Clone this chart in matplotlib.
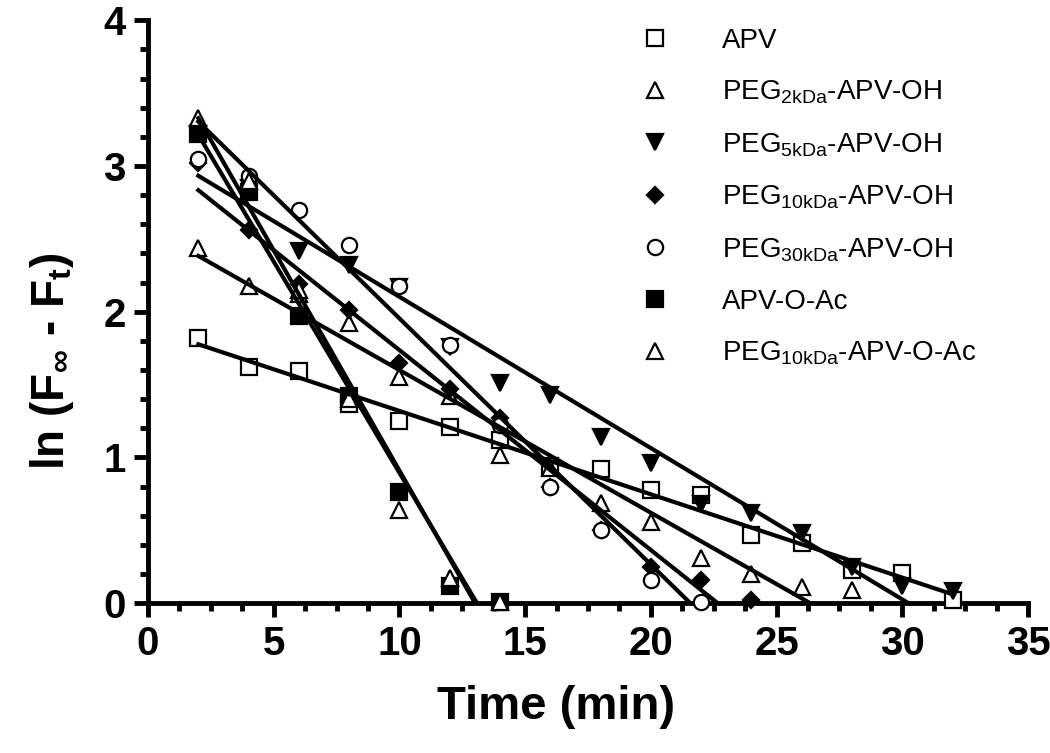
import numpy as np
import matplotlib.pyplot as plt
from matplotlib.ticker import MultipleLocator

plt.rcParams["font.family"] = ["Liberation Sans", "DejaVu Sans"]
plt.rcParams["mathtext.fontset"] = "custom"
plt.rcParams["mathtext.rm"] = "Liberation Sans"
plt.rcParams["mathtext.it"] = "Liberation Sans"
plt.rcParams["mathtext.bf"] = "Liberation Sans:bold"

# time points (min)
t_long = [2, 4, 6, 8, 10, 12, 14, 16, 18, 20, 22, 24, 26, 28, 30, 32]
t_mid = [2, 4, 6, 8, 10, 12, 14, 16, 18, 20, 22, 24]
t_2k = [2, 4, 6, 8, 10, 12, 14, 16, 18, 20, 22, 24, 26, 28]
t_30k = [2, 4, 6, 8, 10, 12, 14, 16, 18, 20, 22]
t_short = [2, 4, 6, 8, 10, 12, 14]

# ln(F_inf - F_t) values
apv = [1.82, 1.62, 1.59, 1.37, 1.25, 1.21, 1.12, 0.94, 0.92, 0.78, 0.74, 0.47, 0.41, 0.23, 0.21, 0.02]
peg2k = [2.44, 2.18, 2.12, 1.92, 1.55, 1.42, 1.02, 0.93, 0.69, 0.56, 0.31, 0.20, 0.11, 0.09]
peg5k = [3.22, 2.85, 2.42, 2.32, 2.17, 1.76, 1.51, 1.43, 1.14, 0.96, 0.68, 0.62, 0.48, 0.25, 0.12, 0.08]
peg10k = [3.02, 2.56, 2.19, 2.01, 1.65, 1.47, 1.27, 0.80, 0.50, 0.25, 0.16, 0.02]
peg30k = [3.05, 2.93, 2.70, 2.46, 2.18, 1.77, 1.22, 0.80, 0.50, 0.16, 0.01]
apv_oac = [3.22, 2.82, 1.97, 1.42, 0.76, 0.12, 0.01]
peg10k_oac = [3.33, 2.90, 2.15, 1.40, 0.64, 0.17, 0.01]

series = [
    (t_long, apv, "s", "white", "APV"),
    (t_2k, peg2k, "^", "white", r"PEG$_{\mathrm{2kDa}}$-APV-OH"),
    (t_long, peg5k, "v", "black", r"PEG$_{\mathrm{5kDa}}$-APV-OH"),
    (t_mid, peg10k, "D", "black", r"PEG$_{\mathrm{10kDa}}$-APV-OH"),
    (t_30k, peg30k, "o", "white", r"PEG$_{\mathrm{30kDa}}$-APV-OH"),
    (t_short, apv_oac, "s", "black", "APV-O-Ac"),
    (t_short, peg10k_oac, "^", "white", r"PEG$_{\mathrm{10kDa}}$-APV-O-Ac"),
]

fig = plt.figure(figsize=(10.5, 7.53), dpi=100)
ax = fig.add_axes([0.141, 0.199, 0.838, 0.774])

for t, y, mk, fc, label in series:
    ms = 8 if mk == "D" else 11
    ax.plot(t, y, linestyle="none", marker=mk, markersize=ms, markerfacecolor=fc,
            markeredgecolor="black", markeredgewidth=1.6, clip_on=False,
            label=label, zorder=3)
    # linear fit over the data range
    slope, intercept = np.polyfit(t, y, 1)
    xs = np.array([min(t), max(t)])
    ax.plot(xs, slope * xs + intercept, color="black", linewidth=3, zorder=4)

ax.set_xlim(0, 35)
ax.set_ylim(0, 4)
ax.xaxis.set_major_locator(MultipleLocator(5))
ax.xaxis.set_minor_locator(MultipleLocator(1.25))
ax.yaxis.set_major_locator(MultipleLocator(1))
ax.yaxis.set_minor_locator(MultipleLocator(0.2))

for side in ["top", "right"]:
    ax.spines[side].set_visible(False)
for side in ["left", "bottom"]:
    ax.spines[side].set_linewidth(3.5)

ax.tick_params(which="major", length=10, width=3.5, labelsize=29, pad=6)
ax.tick_params(which="minor", length=6, width=3.5)
for lab in ax.get_xticklabels() + ax.get_yticklabels():
    lab.set_fontweight("bold")

ax.set_xlabel("Time (min)", fontsize=34, fontweight="bold")
ax.xaxis.set_label_coords(0.464, -0.14)
ax.set_ylabel(r"ln (F$_{\mathbf{\infty}}$ - F$_{\mathbf{t}}$)", fontsize=33,
              fontweight="bold")
ax.yaxis.set_label_coords(-0.082, 0.415)

ax.legend(loc="upper left", bbox_to_anchor=(0.6, 0.978), bbox_transform=fig.transFigure,
          frameon=False, fontsize=20, handlelength=1.0, handletextpad=1.9,
          labelspacing=0.9, borderaxespad=0)

fig.savefig("out.png", dpi=100)
